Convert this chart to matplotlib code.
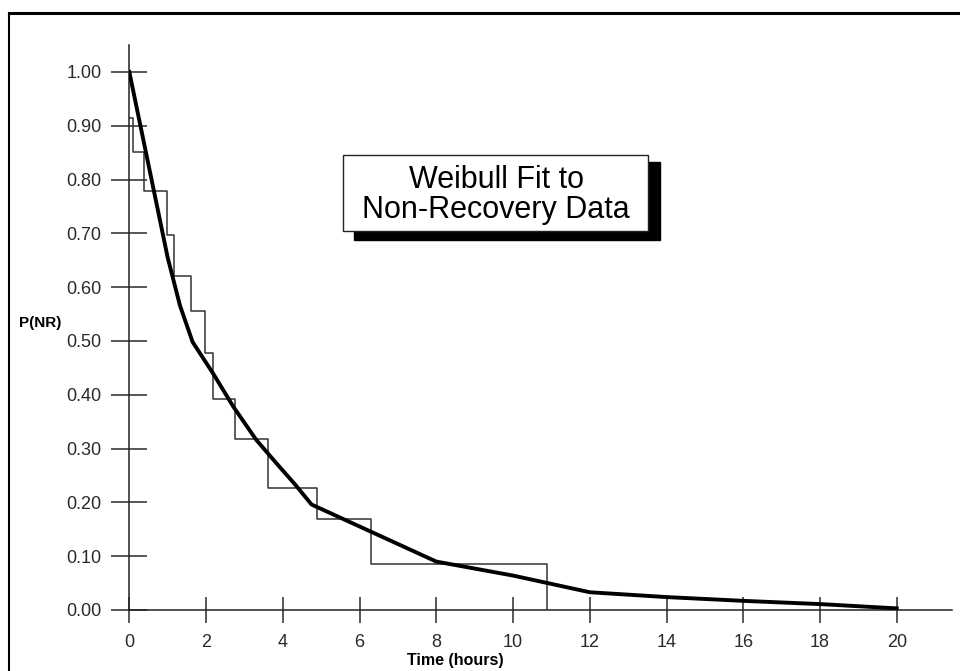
import matplotlib
matplotlib.use("Agg")
import matplotlib.pyplot as plt
from matplotlib.patches import Rectangle
from matplotlib.lines import Line2D

plt.rcParams['font.family'] = ['Liberation Sans', 'DejaVu Sans']

# Kaplan-Meier style non-recovery steps (time in hours, P(NR))
km_times = [0, 0.10, 0.39, 0.97, 1.17, 1.60, 1.97, 2.18, 2.75, 3.61, 4.89, 6.30, 10.89]
km_surv = [0.915, 0.852, 0.779, 0.697, 0.620, 0.556, 0.477, 0.393, 0.317, 0.226, 0.170, 0.085, 0.0]

# Weibull fit curve
fit_t = [0, 1.0, 1.32, 1.65, 2.18, 2.71, 3.31, 3.83, 4.3, 4.75, 8.0, 10.0, 12.0, 14.0, 16.0, 18.0, 20.0]
fit_p = [1.0, 0.655, 0.566, 0.498, 0.440, 0.378, 0.316, 0.273, 0.235, 0.196, 0.090, 0.064, 0.033, 0.024, 0.017, 0.011, 0.003]

x_ticks = [0, 2, 4, 6, 8, 10, 12, 14, 16, 18, 20]
y_ticks = [0.0, 0.1, 0.2, 0.3, 0.4, 0.5, 0.6, 0.7, 0.8, 0.9, 1.0]

W, H = 960, 671
fig = plt.figure(figsize=(W / 100, H / 100), dpi=100)
ax = fig.add_axes([129.3 / W, 1 - 610 / H, 822.7 / W, 565 / H])

ax.step(km_times, km_surv, where='post', color='#333333', lw=1.1, zorder=2)
ax.plot(fit_t, fit_p, color='black', lw=2.8, zorder=3, solid_joinstyle='round')

ax.set_xlim(0, 21.44)
ax.set_ylim(0, 1.05)

for s in ['top', 'right']:
    ax.spines[s].set_visible(False)
for s in ['left', 'bottom']:
    ax.spines[s].set_color('#222222')
    ax.spines[s].set_linewidth(1.1)

ax.set_xticks(x_ticks)
ax.set_xticklabels([str(t) for t in x_ticks])
ax.set_yticks(y_ticks)
ax.set_yticklabels(['%.2f' % v for v in y_ticks])
ax.tick_params(axis='y', direction='inout', length=26, width=1.1, pad=7,
               labelsize=13, colors='#2a2a2a')
ax.tick_params(axis='x', direction='inout', length=19, width=1.1, pad=8,
               labelsize=13, colors='#2a2a2a')
for t in ax.xaxis.get_major_ticks() + ax.yaxis.get_major_ticks():
    t.tick1line.set_clip_on(False)

ax.set_xlabel('Time (hours)', fontsize=11.5, fontweight='bold', va='center')
ax.xaxis.set_label_coords(0.396, -0.0885)
ax.set_ylabel('P(NR)', fontsize=11, fontweight='bold', rotation=0, va='center', ha='center')
ax.yaxis.set_label_coords(-0.108, 0.508)

# title box with drop shadow (figure pixel coords)
def px_rect(x0, y0, x1, y1, **kw):
    return Rectangle((x0 / W, 1 - y1 / H), (x1 - x0) / W, (y1 - y0) / H,
                     transform=fig.transFigure, **kw)

fig.add_artist(px_rect(354, 162, 660, 240, facecolor='black', edgecolor='black', zorder=5))
fig.add_artist(px_rect(343, 155, 648, 231, facecolor='white', edgecolor='#222222', lw=1.0, zorder=6))
fig.text(496 / W, 1 - 180 / H, 'Weibull Fit to', fontsize=22, ha='center', va='center', zorder=7)
fig.text(496 / W, 1 - 210 / H, 'Non-Recovery Data', fontsize=22, ha='center', va='center', zorder=7)

# outer frame (top and left edges visible)
fig.add_artist(Line2D([9 / W, 1.0], [1 - 13 / H, 1 - 13 / H], color='black', lw=2.2,
                      transform=fig.transFigure))
fig.add_artist(Line2D([9 / W, 9 / W], [1 - 13 / H, 0.0], color='black', lw=1.5,
                      transform=fig.transFigure))

fig.savefig('out.png', dpi=100, facecolor='white')
